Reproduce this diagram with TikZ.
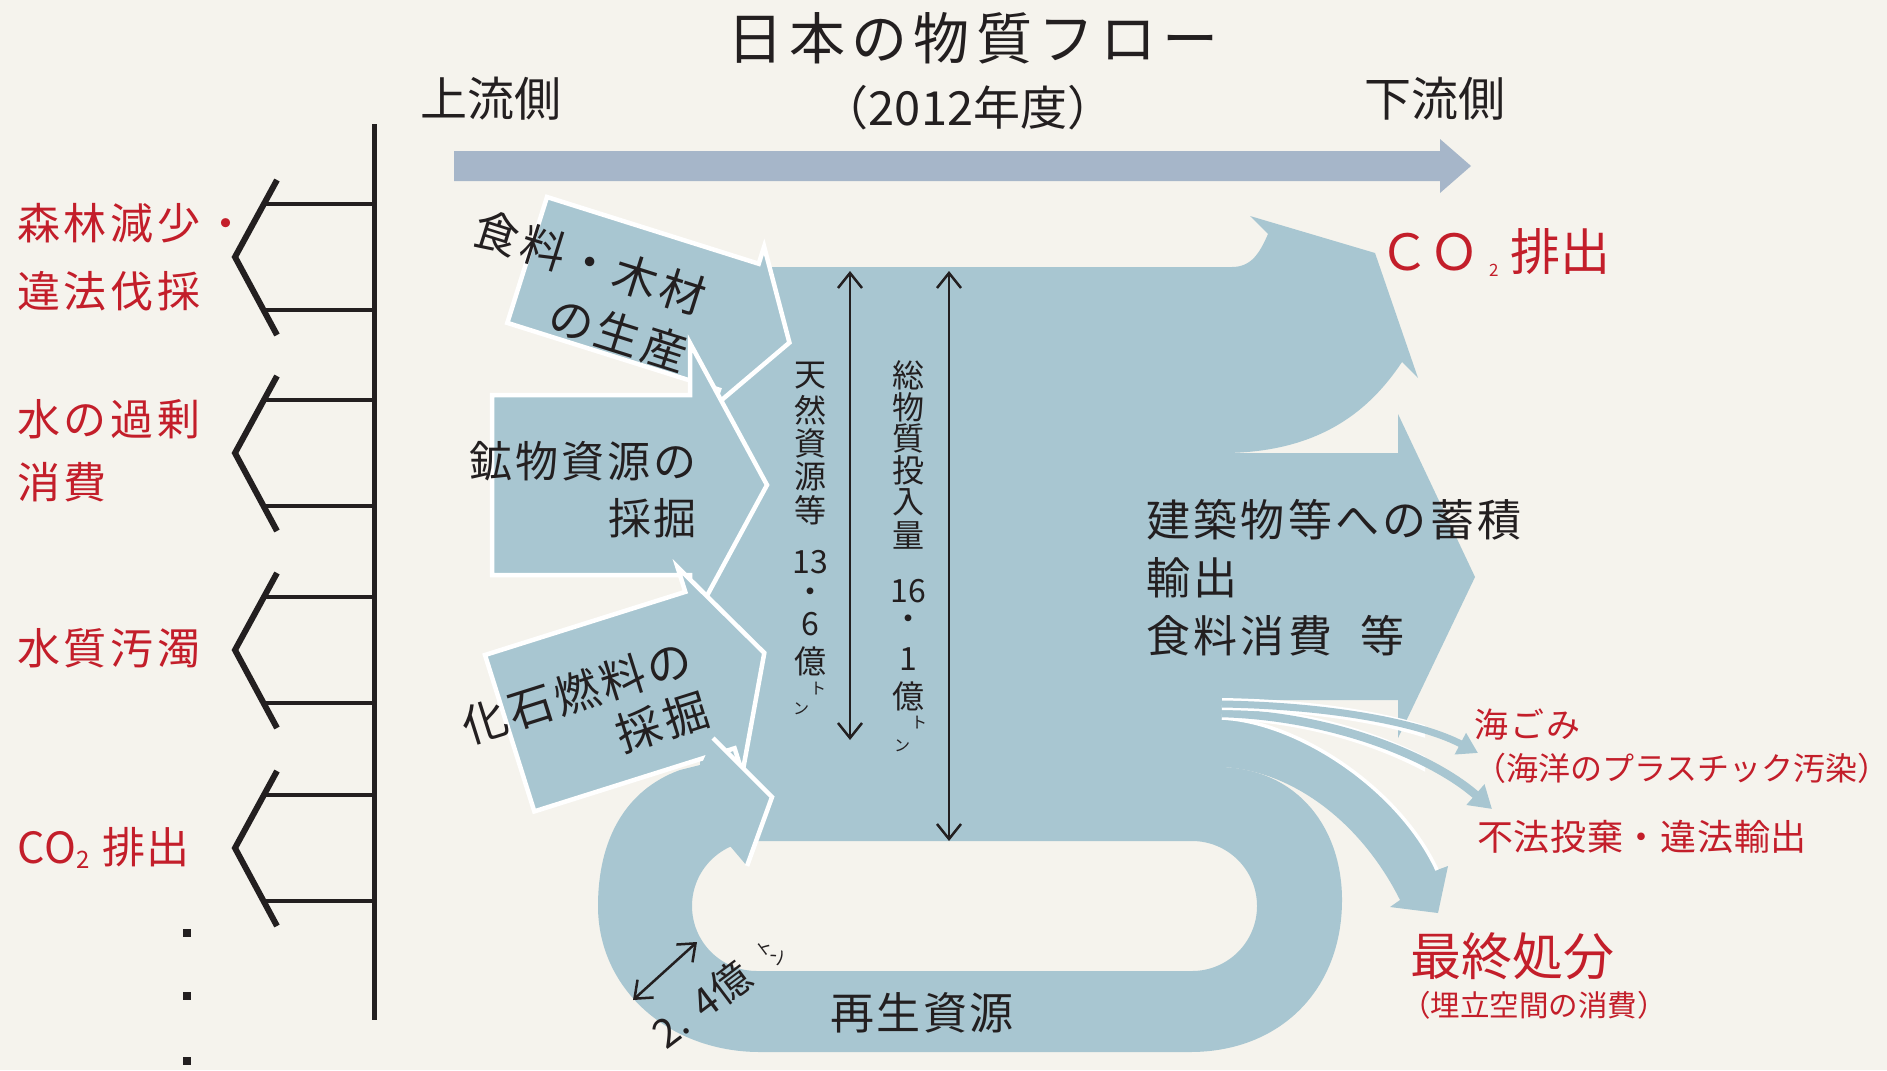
\documentclass[tikz,border=0pt]{standalone}
\usepackage{fontspec}
\usetikzlibrary{arrows.meta}
\newfontfamily\jp{Noto Sans CJK JP}
\definecolor{bg}{RGB}{245,243,237}
\definecolor{flowc}{RGB}{168,198,209}
\definecolor{topc}{RGB}{166,182,201}
\definecolor{redc}{RGB}{195,30,42}
\definecolor{ink}{RGB}{35,31,32}
\newcommand{\jfs}[3]{\jp\fontsize{#1}{#2}\selectfont\addfontfeature{LetterSpace=#3}}
\newcommand{\tonsmall}[1]{{\fontsize{1.7mm}{1.7mm}\selectfont #1}}
\tikzset{
  wout/.style={fill=flowc, draw=white, line width=0.45mm, line join=miter},
  wline/.style={draw=white, line width=0.45mm, line join=miter},
  inktext/.style={text=ink, inner sep=0pt, outer sep=0pt},
  redtext/.style={text=redc, inner sep=0pt, outer sep=0pt},
  vt/.style={text=ink, inner sep=0pt, font=\jp\fontsize{3.2mm}{3.2mm}\selectfont},
  vts/.style={text=ink, inner sep=0pt, font=\jp\fontsize{1.6mm}{1.6mm}\selectfont},
  dimarrow/.style={draw=ink, line width=0.25mm, {Straight Barb[length=1.5mm,width=2.4mm]}-{Straight Barb[length=1.5mm,width=2.4mm]}},
  chev/.style={draw=ink, line width=0.6mm, line join=miter},
  hline/.style={draw=ink, line width=0.45mm},
  vline/.style={draw=ink, line width=0.5mm},
}
\begin{document}
\begin{tikzpicture}[x=0.1mm,y=-0.1mm]
\fill[bg] (0,0) rectangle (1887,1070);
\useasboundingbox (0,0) rectangle (1887,1070);

% top direction arrow
\fill[topc] (454,151) -- (1440,151) -- (1440,139) -- (1471,166) -- (1440,193) -- (1440,181) -- (454,181) -- cycle;

% main body with loop
\fill[flowc, even odd rule] (700,267) -- (1232,267) .. controls (1252,267) and (1260,252) .. (1268,234) -- (1250,216) -- (1375,253) -- (1418,378) -- (1402,362) .. controls (1370,410) and (1320,453) .. (1222,453) -- (1398,453) -- (1398,414) -- (1475,577) -- (1398,738) -- (1398,700) -- (1222,700) -- (1222,767) .. controls (1300,770) and (1342,830) .. (1342,900) .. controls (1342,990) and (1280,1052) .. (1190,1052) -- (760,1052) .. controls (670,1052) and (598,990) .. (598,906) .. controls (598,840) and (625,790) .. (680,770) -- (700,765) -- cycle
 (757,841) -- (1192,841) arc[start angle=-90,end angle=90,radius=65] -- (757,971) arc[start angle=90,end angle=270,radius=65] -- cycle;

% food / wood arrow
\begin{scope}[shift={(547,197)}, rotate=-17.5]
\filldraw[wout] (0,0) -- (222,0) -- (222,-18) -- (275,66) -- (222,150) -- (222,132) -- (0,132) -- cycle;
\end{scope}
% mineral arrow
\filldraw[wout] (492,395) -- (690,395) -- (690,343) -- (767,485) -- (690,627) -- (690,575) -- (492,575) -- cycle;
% fossil arrow
\begin{scope}[shift={(485,655)}, rotate=17.5]
\filldraw[wout] (0,0) -- (210,0) -- (210,-26) -- (267,82) -- (210,190) -- (210,164) -- (0,164) -- cycle;
\end{scope}
% loop head
\fill[flowc] (700,768) -- (713,738) -- (772,797) -- (747,866) -- (730,846) -- (700,830) -- cycle;
\draw[wline] (713,738) -- (772,797) -- (747,866);

% final disposal arrow
\fill[flowc] (1222,718) .. controls (1300,722) and (1400,790) .. (1437,870) -- (1448,866) -- (1438,913) -- (1390,907) -- (1400,900) .. controls (1360,820) and (1290,770) .. (1222,767) -- cycle;
\draw[white, line width=0.35mm] (1222,718) .. controls (1300,722) and (1400,790) .. (1437,870);
% illegal dumping arrow
\begin{scope}
\clip (1200,600) rectangle (1425,900);
\draw[white, line width=1.35mm] (1222,713) .. controls (1330,716) and (1430,755) .. (1492,809);
\end{scope}
\draw[flowc, line width=0.85mm, -{Triangle[length=2.2mm,width=2.6mm]}] (1222,713) .. controls (1330,716) and (1430,755) .. (1492,809);
% marine litter arrow
\begin{scope}
\clip (1200,600) rectangle (1425,900);
\draw[white, line width=1.2mm] (1222,704) .. controls (1340,706) and (1425,725) .. (1478,753);
\end{scope}
\draw[flowc, line width=0.7mm, -{Triangle[length=2mm,width=2.3mm]}] (1222,704) .. controls (1340,706) and (1425,725) .. (1478,753);

% dimension arrows
\coordinate (d1a) at (850,271); \coordinate (d1b) at (850,740);
\coordinate (d2a) at (949,271); \coordinate (d2b) at (949,841);
\coordinate (d3a) at (633,1000); \coordinate (d3b) at (697,942);
\draw[dimarrow] (d1a) -- (d1b);
\draw[dimarrow] (d2a) -- (d2b);
\draw[dimarrow] (d3a) -- (d3b);

% left side: spine and brackets
\draw[vline] (374,124) -- (374,1020);
\foreach \yv in {257,453,650,848} {
  \draw[chev] (277,\yv-77) -- (235,\yv) -- (277,\yv+78);
  \draw[hline] (265,\yv-53) -- (374,\yv-53);
  \draw[hline] (265,\yv+53) -- (374,\yv+53);
}
\fill[ink] (183,929) rectangle (191,937);
\fill[ink] (183,992) rectangle (191,1000);
\fill[ink] (183,1057) rectangle (191,1065);

% headings
\node[inktext, font=\jfs{5.6mm}{5.6mm}{11}] (title) at (973,38) {日本の物質フロー};
\node[inktext, font=\jfs{4.7mm}{4.7mm}{0}] (year) at (968,108) {（2012年度）};
\node[inktext, font=\jfs{4.7mm}{4.7mm}{0}] (up) at (491,99) {上流側};
\node[inktext, font=\jfs{4.7mm}{4.7mm}{0}] (down) at (1435,99) {下流側};

% arrow labels
\node[inktext, font=\jfs{4.5mm}{6mm}{8}, rotate=-17.5, align=right] (ftext) at (581,291) {食料・木材\\の生産};
\node[inktext, font=\jfs{4.3mm}{5.7mm}{7}, align=right, anchor=east] (mtext) at (697,490) {鉱物資源の\\採掘};
\node[inktext, font=\jfs{4.5mm}{5.4mm}{7.5}, rotate=17.5, align=right] (stext) at (585,718) {化石燃料の\\採掘};
\node[inktext, font=\jfs{4.4mm}{5.8mm}{7.7}, align=left, anchor=west] (acc) at (1146,578) {建築物等への蓄積\\輸出\\食料消費\hspace{2.8mm}等};
\node[inktext, font=\jfs{4.4mm}{4.4mm}{5.7}] (recyc) at (922,1013) {再生資源};
\node[inktext, font=\jfs{4mm}{4mm}{0}, rotate=37, anchor=base west] (rec24) at (666,1050) {2.\hspace{1.6mm}4億\hspace{2.0mm}\rlap{\raisebox{1.6mm}{\tonsmall{ト}}}\hspace{0.6mm}\tonsmall{ン}};

% vertical columns
\foreach \c/\y [count=\i] in {天/376,然/410,資/443,源/476,等/510,13/562,・/596,6/624,億/661}
  \node[vt] (va\i) at (810,\y) {\c};
\node[vts] (vat) at (818,689) {ト};
\node[vts] (van) at (801,709) {ン};
\foreach \c/\y [count=\i] in {総/375,物/407,質/438,投/470,入/502,量/535,16/591,・/623,1/659,億/696}
  \node[vt] (vb\i) at (908,\y) {\c};
\node[vts] (vbt) at (919,723) {ト};
\node[vts] (vbn) at (902,746) {ン};

% red labels left
\node[redtext, font=\jfs{4.3mm}{6.8mm}{9}, align=left, anchor=west] (r1) at (17,257) {森林減少・\\違法伐採};
\node[redtext, font=\jfs{4.3mm}{6.3mm}{9}, align=left, anchor=west] (r2) at (17,451) {水の過剰\\消費};
\node[redtext, font=\jfs{4.3mm}{4.3mm}{9}, anchor=west] (r3) at (17,648) {水質汚濁};
\node[redtext, font=\jfs{4.3mm}{4.3mm}{4}, anchor=west] (r4) at (17,848) {CO\raisebox{-0.5mm}{\fontsize{2.4mm}{2.4mm}\selectfont 2}\hspace{1.2mm}排出};

% red labels right
\node[redtext, font=\jfs{5mm}{5mm}{0}, anchor=west] (co2r) at (1379,252) {ＣＯ\hspace{1.0mm}\raisebox{-0.6mm}{\fontsize{1.7mm}{1.7mm}\selectfont 2}\hspace{1.2mm}排出};
\node[redtext, font=\jfs{3.4mm}{3.4mm}{6}, anchor=west] (sea) at (1474,725) {海ごみ};
\node[redtext, font=\jfs{3.2mm}{3.2mm}{0}, anchor=west] (seab) at (1474,768) {（海洋のプラスチック汚染）};
\node[redtext, font=\jfs{3.6mm}{3.6mm}{2}, anchor=west] (illegal) at (1477,837) {不法投棄・違法輸出};
\node[redtext, font=\jfs{5.1mm}{5.1mm}{0}, anchor=west] (final) at (1410,956) {最終処分};
\node[redtext, font=\jfs{2.95mm}{2.95mm}{0}, anchor=west] (finalb) at (1401,1005) {（埋立空間の消費）};
\end{tikzpicture}
\end{document}
